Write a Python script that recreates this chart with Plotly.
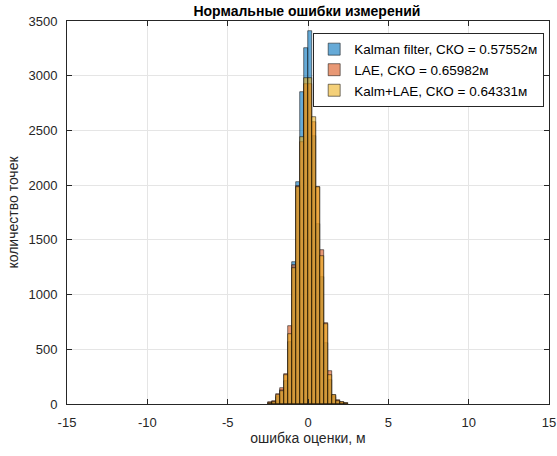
import plotly.graph_objects as go

# bin centers (bin width 0.25 m)
bin_centers = [-2.375, -2.125, -1.875, -1.625, -1.375, -1.125, -0.875, -0.625, -0.375, -0.125,
               0.125, 0.375, 0.625, 0.875, 1.125, 1.375, 1.625, 1.875, 2.125, 2.375]
bin_width = 0.25

kalman = [5, 15, 60, 130, 210, 565, 1300, 2027, 2849, 3256,
          3411, 2450, 1645, 1160, 560, 220, 60, 25, 10, 3]
lae = [16, 26, 87, 148, 278, 710, 1270, 1990, 2398, 2924,
       2924, 2580, 1985, 1403, 737, 306, 84, 35, 20, 10]
kalm_lae = [10, 20, 80, 120, 265, 640, 1245, 1987, 2443, 2978,
            2978, 2625, 1985, 1349, 730, 263, 78, 30, 15, 8]

names = ["Kalman filter, СКО = 0.57552м", "LAE, СКО = 0.65982м", "Kalm+LAE, СКО = 0.64331м"]
colors = ["rgba(0,114,189,0.6)", "rgba(217,83,25,0.6)", "rgba(237,177,32,0.6)"]

x_ticks = [-15, -10, -5, 0, 5, 10, 15]
y_ticks = [0, 500, 1000, 1500, 2000, 2500, 3000, 3500]

FONT = "Liberation Sans, Arial, sans-serif"

fig = go.Figure()
for vals, nm, col in zip([kalman, lae, kalm_lae], names, colors):
    fig.add_trace(go.Bar(
        x=bin_centers, y=vals, width=bin_width, name=nm,
        marker=dict(color=col, line=dict(color="rgba(0,0,0,0.85)", width=0.6)),
    ))

axis_common = dict(
    showline=True, linecolor="#262626", linewidth=1, mirror="allticks",
    ticks="inside", ticklen=5, tickcolor="#262626", tickwidth=1,
    showgrid=True, gridcolor="#e5e5e5", gridwidth=1, zeroline=False,
    automargin=False, ticklabelstandoff=6,
    tickfont=dict(family=FONT, size=13, color="#262626"),
)

fig.update_layout(
    width=557, height=456,
    margin=dict(l=67, r=8, t=21, b=52),
    paper_bgcolor="white", plot_bgcolor="white",
    barmode="overlay", bargap=0,
    title=dict(text="<b>Нормальные ошибки измерений</b>", x=0.551, xanchor="center",
               y=0.976, yanchor="middle",
               font=dict(family=FONT, size=14, color="black")),
    xaxis=dict(range=[-15, 15], tickvals=x_ticks, ticktext=[str(v) for v in x_ticks],
               title=dict(text="ошибка оценки, м", standoff=2,
                          font=dict(family=FONT, size=14, color="#262626")),
               **axis_common),
    yaxis=dict(range=[0, 3500], tickvals=y_ticks, ticktext=[str(v) for v in y_ticks],
               title=dict(text="количество точек", standoff=6,
                          font=dict(family=FONT, size=14, color="#262626")),
               **axis_common),
    legend=dict(x=0.99, y=0.969, xanchor="right", yanchor="top",
                bgcolor="white", bordercolor="#262626", borderwidth=1,
                font=dict(family=FONT, size=13.5, color="black"),
                tracegroupgap=0, itemwidth=30),
    showlegend=True,
)

# remove the default 8px page margin so the figure fills the window
fig.write_html("out.html", config={"displayModeBar": False},
               post_script="document.body.style.margin='0';")
